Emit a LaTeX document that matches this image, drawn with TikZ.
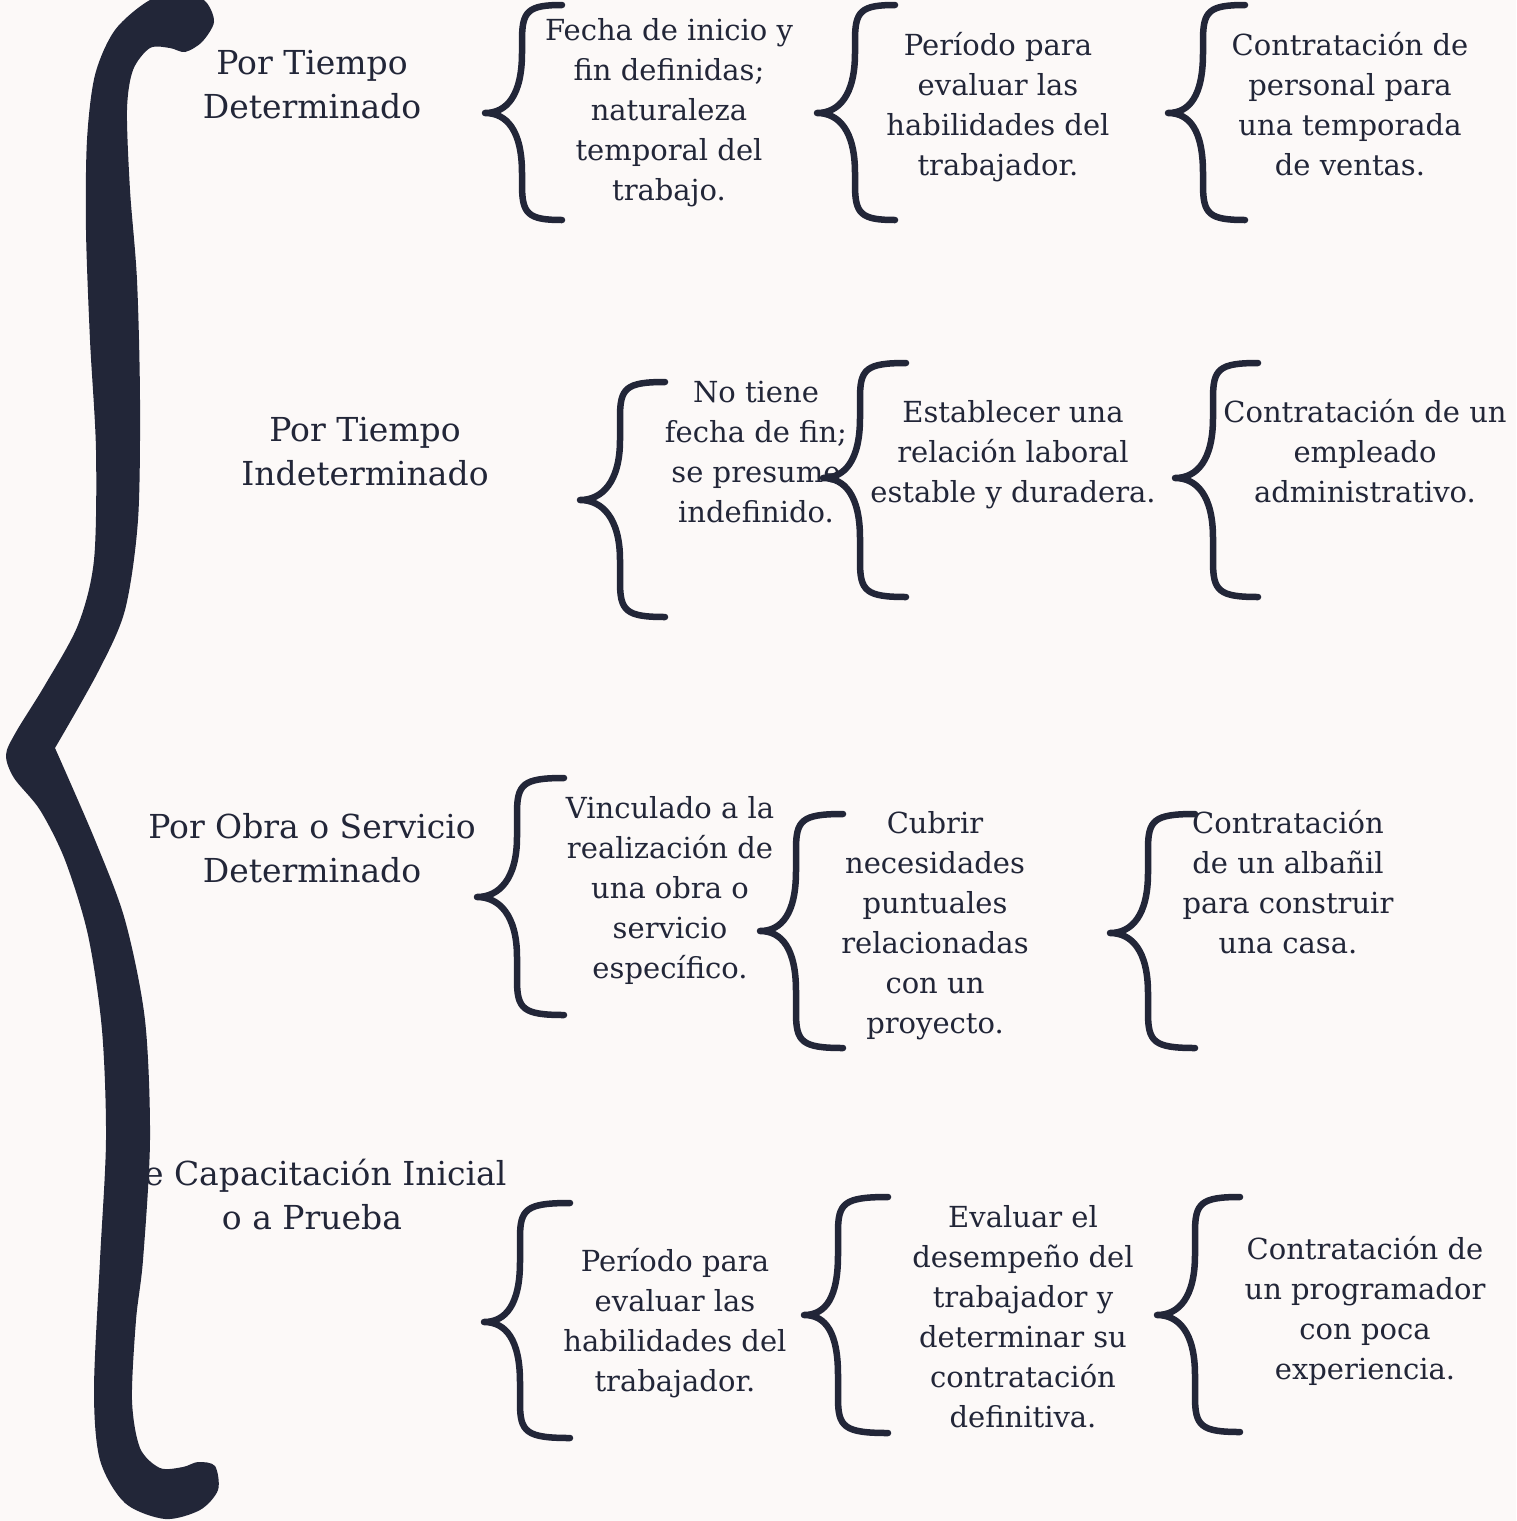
\documentclass[tikz,border=0pt]{standalone}
\usepackage{fontspec}
\setmainfont{DejaVu Serif}
\usepackage{xcolor}

\definecolor{tinta}{HTML}{222638}
\definecolor{fondo}{HTML}{FCF9F8}

% llave: punta x, tallo x, extremo x, arriba y, punta y, abajo y
\newcommand{\llave}[6]{%
  \draw[llave] (#3,#4) .. controls (#2+6,#4) and (#2,#4+6) .. (#2,#4+35)
    -- (#2,#5-60) .. controls (#2,#5-18) and (#1+22,#5) .. (#1,#5)
    .. controls (#1+22,#5) and (#2,#5+18) .. (#2,#5+60)
    -- (#2,#6-35) .. controls (#2,#6-6) and (#2+6,#6) .. (#3,#6);}

\begin{document}
\begin{tikzpicture}[x=1pt,y=-1pt,
    llave/.style={draw=tinta,line width=6.5pt,line cap=round,line join=round},
    texto/.style={text=tinta,align=center,inner sep=0pt,anchor=base,
      font=\fontsize{29}{40}\selectfont},
    titulo/.style={texto,font=\fontsize{33}{44}\selectfont}]
  \fill[fondo] (0,0) rectangle (1516,1521);
  \useasboundingbox (0,0) rectangle (1516,1521);
  \clip (0,0) rectangle (1516,1521);

  % Por tiempo determinado (y = linea base de la ultima linea)
  \node[titulo] (det) at (312,118) {Por Tiempo\\Determinado};
  \node[texto] (det-car) at (669,200) {Fecha de inicio y\\fin definidas;\\naturaleza\\temporal del\\trabajo.};
  \node[texto] (det-obj) at (998,175) {Período para\\evaluar las\\habilidades del\\trabajador.};
  \node[texto] (det-ej) at (1350,175) {Contratación de\\personal para\\una temporada\\de ventas.};

  % Por tiempo indeterminado
  \node[titulo] (indet) at (365,485) {Por Tiempo\\Indeterminado};
  \node[texto] (indet-car) at (756,522) {No tiene\\fecha de fin;\\se presume\\indefinido.};
  \node[texto] (indet-obj) at (1013,502) {Establecer una\\relación laboral\\estable y duradera.};
  \node[texto] (indet-ej) at (1365,502) {Contratación de un\\empleado\\administrativo.};

  % Por obra o servicio
  \node[titulo] (obra) at (312,882) {Por Obra o Servicio\\Determinado};
  \node[texto] (obra-car) at (670,978) {Vinculado a la\\realización de\\una obra o\\servicio\\específico.};
  \node[texto] (obra-obj) at (935,1033) {Cubrir\\necesidades\\puntuales\\relacionadas\\con un\\proyecto.};
  \node[texto] (obra-ej) at (1288,953) {Contratación\\de un albañil\\para construir\\una casa.};

  % Capacitacion inicial o a prueba
  \node[titulo] (prueba) at (312,1229) {De Capacitación Inicial\\o a Prueba};
  \node[texto] (prueba-car) at (675,1391) {Período para\\evaluar las\\habilidades del\\trabajador.};
  \node[texto] (prueba-obj) at (1023,1427) {Evaluar el\\desempeño del\\trabajador y\\determinar su\\contratación\\definitiva.};
  \node[texto] (prueba-ej) at (1365,1379) {Contratación de\\un programador\\con poca\\experiencia.};

  % Llave grande
  \fill[tinta] plot[smooth,tension=0.5] coordinates {(55,748) (98,672) (125,610)
    (138,520) (140,400) (137,280) (130,190) (127,110) (133,70) (150,48)
    (170,48) (185,52) (202,42) (214,22) (206,2) (185,-8) (150,0) (115,30)
    (95,75) (87,140) (86,230) (90,340) (96,450) (94,560) (78,625) (45,685)
    (16,732) (6,755) (14,778) (40,810) (65,860) (88,935) (102,1030)
    (106,1140) (100,1260) (94,1390) (100,1460) (125,1503) (165,1519)
    (200,1510) (218,1490) (215,1466) (198,1462) (183,1467) (160,1468)
    (140,1448) (132,1400) (136,1320) (143,1260) (150,1140) (145,1020)
    (125,920) (95,840) (55,748)} -- cycle;

  % Llaves pequenas
  \llave{485}{522}{562}{5}{113}{220}
  \llave{817}{855}{895}{5}{113}{220}
  \llave{1168}{1203}{1245}{5}{113}{220}

  \llave{580}{620}{665}{382}{500}{617}
  \llave{823}{860}{906}{363}{478}{597}
  \llave{1175}{1213}{1258}{363}{478}{597}

  \llave{477}{517}{564}{778}{897}{1015}
  \llave{760}{796}{843}{814}{931}{1048}
  \llave{1110}{1148}{1195}{814}{933}{1048}

  \llave{484}{520}{570}{1203}{1322}{1438}
  \llave{804}{838}{888}{1197}{1315}{1433}
  \llave{1157}{1195}{1240}{1197}{1315}{1432}
\end{tikzpicture}
\end{document}
